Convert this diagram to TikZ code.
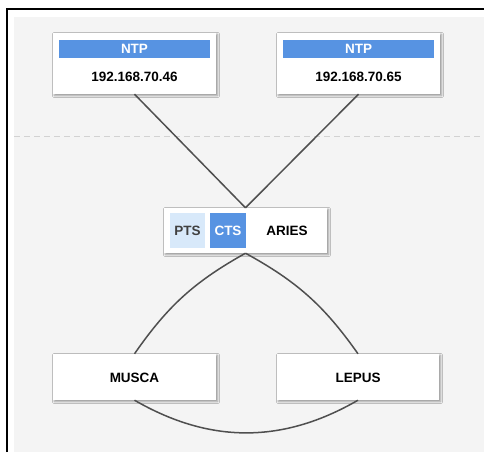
\documentclass[tikz,border=0pt]{standalone}
\usepackage{fontspec}
\setmainfont{Liberation Sans}
\usetikzlibrary{shadows.blur}
\definecolor{bggray}{HTML}{F4F4F4}
\definecolor{ntpblue}{HTML}{5793E2}
\definecolor{ptsblue}{HTML}{D8E9FA}
\definecolor{linegray}{HTML}{4F4F4F}
\definecolor{dashgray}{HTML}{D2D2D2}
\begin{document}
\begin{tikzpicture}[x=1pt,y=-1pt,
  card/.style={draw=none, fill=white, rectangle, inner sep=0pt,
    blur shadow={shadow xshift=1.5pt, shadow yshift=-1.5pt, shadow blur steps=4, shadow opacity=40}},
  bar/.style={fill=ntpblue, inner sep=0pt, minimum width=151pt, minimum height=18pt,
    text=white, font=\bfseries\fontsize{13.5}{15}\selectfont},
  lbl/.style={inner sep=0pt, font=\bfseries\fontsize{13.5}{16}\selectfont, text=black},
  tag/.style={inner sep=0pt, minimum width=35pt, minimum height=35pt, font=\bfseries\fontsize{13.5}{16}\selectfont},
  conn/.style={draw=linegray, line width=1.5pt}
]
\useasboundingbox (0,0) rectangle (484,452);
\fill[white] (0,0) rectangle (484,452);
\fill[bggray] (14,17) rectangle (484,452);
\draw[black, line width=1.5pt] (7,452) -- (7,9) -- (484,9);
\draw[dashgray, line width=1pt, dash pattern=on 6pt off 4pt] (14,136) -- (484,136);

% NTP cards
\node[card, minimum width=163pt, minimum height=61pt] (ntp1) at (134.5,63.5) {};
\node[bar] (bar1) at (134.5,49) {NTP};
\node[lbl] (ip1) at (134.5,77) {192.168.70.46};
\node[card, minimum width=163pt, minimum height=61pt] (ntp2) at (358.5,63.5) {};
\node[bar] (bar2) at (358.5,49) {NTP};
\node[lbl] (ip2) at (358.5,77) {192.168.70.65};

% ARIES card
\node[card, minimum width=163pt, minimum height=45pt] (aries) at (245.5,230.5) {};
\node[tag, fill=ptsblue, text=black!75] (pts) at (187.5,230.5) {PTS};
\node[tag, fill=ntpblue, text=white, minimum width=36pt] (cts) at (228,230.5) {CTS};
\node[lbl] (ariestxt) at (287,231) {ARIES};

% bottom cards
\node[card, minimum width=163pt, minimum height=46pt] (musca) at (134.5,377) {};
\node[lbl] (muscatxt) at (134.5,378) {MUSCA};
\node[card, minimum width=162pt, minimum height=46pt] (lepus) at (358,377) {};
\node[lbl] (lepustxt) at (358,378) {LEPUS};

% connectors
\draw[conn] (ntp1.south) -- (aries.north);
\draw[conn] (ntp2.south) -- (aries.north);
\draw[conn] (aries.south) to[bend right=13] (musca.north);
\draw[conn] (aries.south) to[bend left=13] (lepus.north);
\draw[conn] (musca.south) to[bend right=30] (lepus.south);
\end{tikzpicture}
\end{document}
